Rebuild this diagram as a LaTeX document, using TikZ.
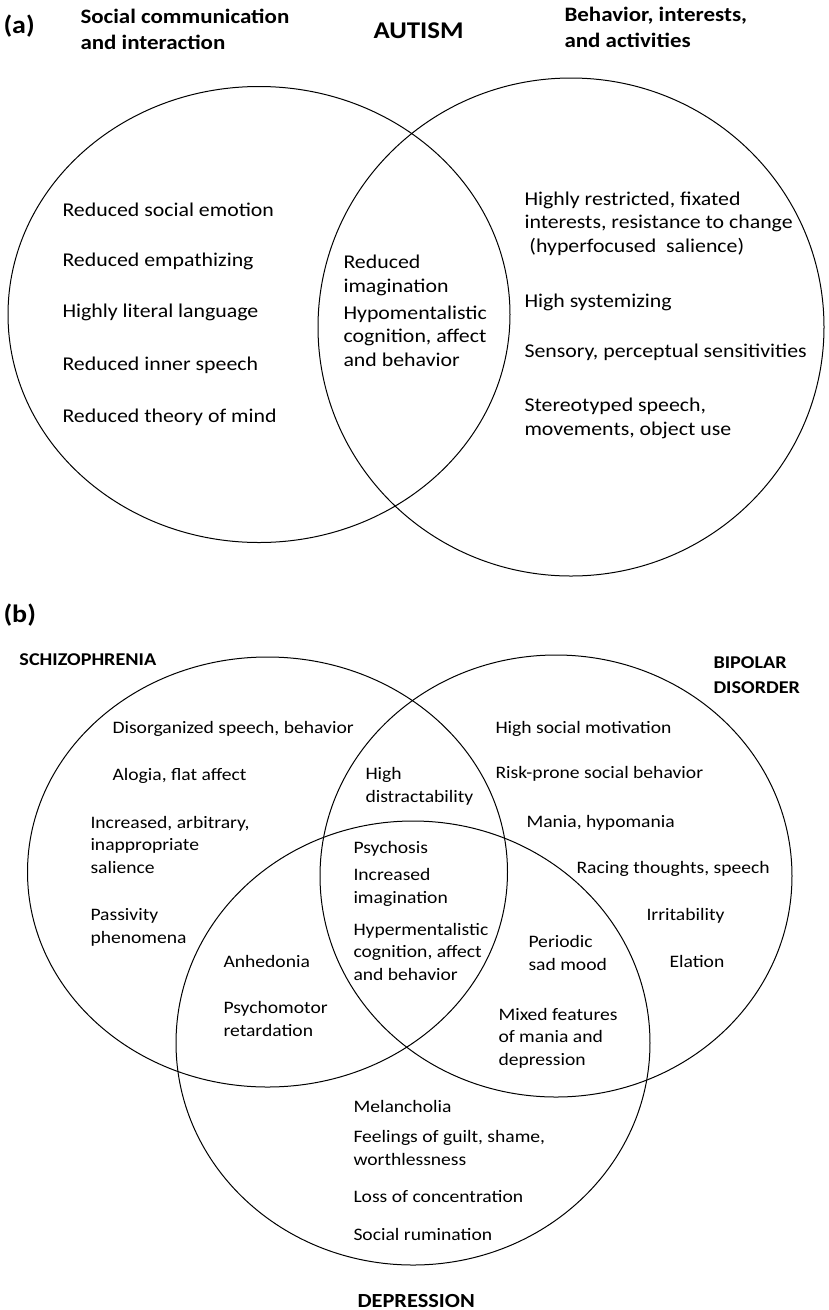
\documentclass[tikz,border=0pt]{standalone}
\usepackage{fontspec}
\setmainfont{Carlito}[FakeStretch=1.12]
\usetikzlibrary{positioning}

\begin{document}
\begin{tikzpicture}[x=1pt,y=-1pt,line width=1pt,
	itema/.style={anchor=base west,inner sep=0pt,align=left,font=\fontsize{19.5}{23.5}\selectfont},
	itemb/.style={anchor=base west,inner sep=0pt,align=left,font=\fontsize{17.5}{22.5}\selectfont},
	heada/.style={anchor=base west,inner sep=0pt,align=left,font=\bfseries\fontsize{20.5}{25.5}\selectfont},
	headb/.style={anchor=base west,inner sep=0pt,align=left,font=\bfseries\fontsize{18}{25}\selectfont},
	panel/.style={anchor=base west,inner sep=0pt,font=\bfseries\fontsize{25}{27}\selectfont}]
	\useasboundingbox (0,0) rectangle (828,1310);
	
	% (a) autism
	\node[panel](pa) at (3,33){(a)};
	\node[heada](social) at (80,49){Social communication\\and interaction};
	\node[panel,font=\bfseries\fontsize{24}{25}\selectfont](autism) at (373,38){AUTISM};
	\node[heada](behav) at (564,47){Behavior, interests,\\and activities};
	
	\coordinate (cs) at (259,314.5);
	\coordinate (cb) at (571,327);
	\draw (cs) ellipse [x radius=251,y radius=228];
	\draw (cb) ellipse [x radius=253,y radius=249];
	
	\node[itema](s1) at (62,216){Reduced social emotion};
	\node[itema](s2) at (62,266){Reduced empathizing};
	\node[itema](s3) at (62,317){Highly literal language};
	\node[itema](s4) at (62,370){Reduced inner speech};
	\node[itema](s5) at (62,422){Reduced theory of mind};
	
	\node[itema](m1) at (343,292){Reduced\\imagination};
	\node[itema](m2) at (343,366){Hypomentalistic\\cognition, affect\\and behavior};
	
	\node[itema](b1) at (524,252){Highly restricted, fixated\\interests, resistance to change\\\ (hyperfocused\ \ salience)};
	\node[itema](b2) at (524,307){High systemizing};
	\node[itema](b3) at (524,357){Sensory, perceptual sensitivities};
	\node[itema](b4) at (524,435){Stereotyped speech,\\movements, object use};
	
	% (b) schizophrenia, bipolar disorder, depression
	\node[panel](pb) at (3,622){(b)};
	\node[headb](schizo) at (19,665){SCHIZOPHRENIA};
	\node[headb](bipolar) at (713,693){BIPOLAR\\DISORDER};
	\node[headb,font=\bfseries\fontsize{20}{25}\selectfont](depr) at (357,1307){DEPRESSION};
	
	\coordinate (cz) at (267.5,872);
	\coordinate (cp) at (556,876);
	\coordinate (cd) at (413,1043);
	\draw (cz) ellipse [x radius=240,y radius=215];
	\draw (cp) ellipse [x radius=236,y radius=221];
	\draw (cd) ellipse [x radius=237,y radius=222];
	
	\node[itemb](z1) at (112,733){Disorganized speech, behavior};
	\node[itemb](z2) at (112,780){Alogia, flat affect};
	\node[itemb](z3) at (90,873){Increased, arbitrary,\\inappropriate\\salience};
	\node[itemb](z4) at (90,943){Passivity\\phenomena};
	
	\node[itemb](zp) at (365,802){High\\distractability};
	\node[itemb](zd1) at (223,967){Anhedonia};
	\node[itemb](zd2) at (223,1036){Psychomotor\\retardation};
	
	\node[itemb](c1) at (353,853){Psychosis};
	\node[itemb](c2) at (353,903){Increased\\imagination};
	\node[itemb](c3) at (353,980){Hypermentalistic\\cognition, affect\\and behavior};
	
	\node[itemb](p1) at (495,733){High social motivation};
	\node[itemb](p2) at (495,778){Risk-prone social behavior};
	\node[itemb](p3) at (526,827){Mania, hypomania};
	\node[itemb](p4) at (576,873){Racing thoughts, speech};
	\node[itemb](p5) at (646,920){Irritability};
	\node[itemb](p6) at (669,967){Elation};
	
	\node[itemb](pd1) at (528,970){Periodic\\sad mood};
	\node[itemb](pd2) at (498,1065){Mixed features\\of mania and\\depression};
	
	\node[itemb](d1) at (353,1112){Melancholia};
	\node[itemb](d2) at (353,1165){Feelings of guilt, shame,\\worthlessness};
	\node[itemb](d3) at (353,1202){Loss of concentration};
	\node[itemb](d4) at (353,1240){Social rumination};
\end{tikzpicture}
\end{document}
